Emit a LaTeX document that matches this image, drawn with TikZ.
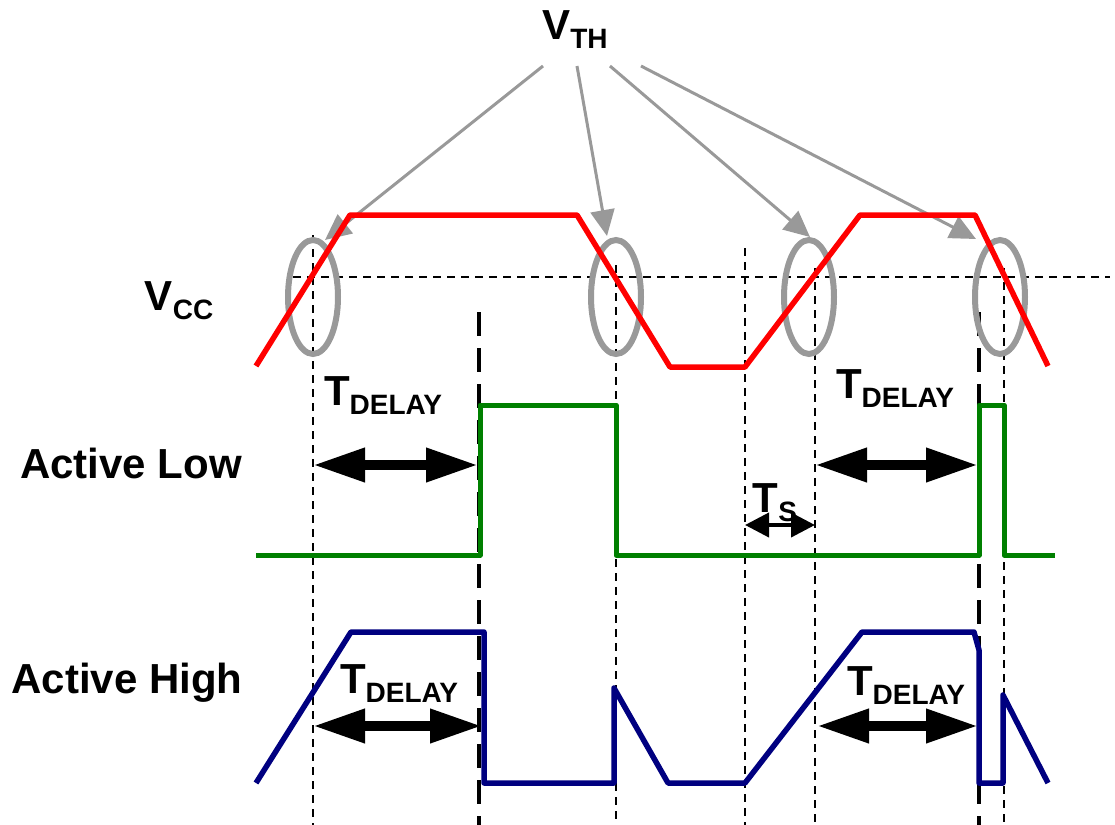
\documentclass[tikz,border=0pt]{standalone}
\usepackage{fontspec}
\setmainfont{Liberation Sans}
\usetikzlibrary{arrows.meta}

\newcommand{\lowtext}[1]{\raisebox{-0.45ex}{\fontsize{14}{16}\selectfont #1}}

\begin{document}
\begin{tikzpicture}[x=0.5pt, y=-0.5pt,
    wave/.style={line width=2.75pt, line join=round},
    ring/.style={line width=3pt, color=gray!80},
    pointer/.style={line width=1.5pt, color=gray!80, -{Triangle[length=13pt,width=12pt]}},
    guide/.style={line width=0.7pt, dash pattern=on 4pt off 3pt},
    edge/.style={line width=1.6pt, dash pattern=on 12pt off 6pt},
    span/.style={line width=5pt, {Triangle[length=26pt,width=16pt]}-{Triangle[length=26pt,width=16pt]}},
    smallspan/.style={line width=2pt, {Triangle[length=12pt,width=12pt]}-{Triangle[length=12pt,width=12pt]}},
    lbl/.style={font=\bfseries\fontsize{21}{25}\selectfont, inner sep=0pt, anchor=base}]
    \useasboundingbox (0,0) rectangle (1115,825);

    \draw[guide] (293,277) -- (1110,277);
    \draw[guide] (313,235) -- (313,825);
    \draw[guide] (616,265) -- (616,825);
    \draw[guide] (745,248) -- (745,825);
    \draw[guide] (815,268) -- (815,825);
    \draw[guide] (1004,268) -- (1004,825);
    \draw[edge] (479,312) -- (479,825);
    \draw[edge] (979,312) -- (979,825);

    \draw[ring] (313,297) ellipse [x radius=12.5pt, y radius=28.5pt];
    \draw[ring] (616,297) ellipse [x radius=12.5pt, y radius=28.5pt];
    \draw[ring] (809,297) ellipse [x radius=12.5pt, y radius=28.5pt];
    \draw[ring] (1000,297) ellipse [x radius=12.5pt, y radius=28.5pt];

    \node[lbl] (vth) at (575,39) {V\lowtext{TH}};
    \coordinate (from1) at (543,66);
    \coordinate (from2) at (577,66);
    \coordinate (from3) at (610,66);
    \coordinate (from4) at (641,66);
    \coordinate (tip1) at (325,240);
    \coordinate (tip2) at (607,236);
    \coordinate (tip3) at (810,237);
    \coordinate (tip4) at (976,239);
    \draw[pointer] (from1) -- (tip1);
    \draw[pointer] (from2) -- (tip2);
    \draw[pointer] (from3) -- (tip3);
    \draw[pointer] (from4) -- (tip4);

    \draw[wave, red] (256,366) -- (350,215) -- (577,215) -- (670,367) -- (745,367) -- (860,215) -- (975,215) -- (1048,366);
    \draw[wave, line width=2.5pt, color={rgb,255:red,0;green,128;blue,0}] (256,555) -- (480,555) -- (480,405) -- (616,405) -- (616,555) -- (979,555) -- (979,405) -- (1004,405) -- (1004,555) -- (1055,555);
    \draw[wave, color={rgb,255:red,0;green,0;blue,128}] (256,783) -- (351,632) -- (484,632) -- (484,783) -- (614,783) -- (614,688) -- (668,783) -- (745,783) -- (862,632) -- (974,632) -- (979,650) -- (979,783) -- (1003,783) -- (1003,695) -- (1048,783);

    \node[lbl] (vcc) at (179,310) {V\lowtext{CC}};
    \node[lbl] (low) at (131,478) {Active Low};
    \node[lbl] (high) at (127,693) {Active High};

    \node[lbl] (tdelay1) at (383,405) {T\lowtext{DELAY}};
    \node[lbl] (tdelay2) at (895,398) {T\lowtext{DELAY}};
    \node[lbl] (tdelay3) at (399,693) {T\lowtext{DELAY}};
    \node[lbl] (tdelay4) at (906,695) {T\lowtext{DELAY}};
    \node[lbl] (ts) at (775,512) {T\lowtext{S}};

    \draw[span] (313,465) -- (478,465);
    \draw[span] (815,465) -- (978,465);
    \draw[span] (313,726) -- (482,726);
    \draw[span] (817,726) -- (978,726);
    \draw[smallspan] (745,525) -- (815,525);
\end{tikzpicture}
\end{document}
